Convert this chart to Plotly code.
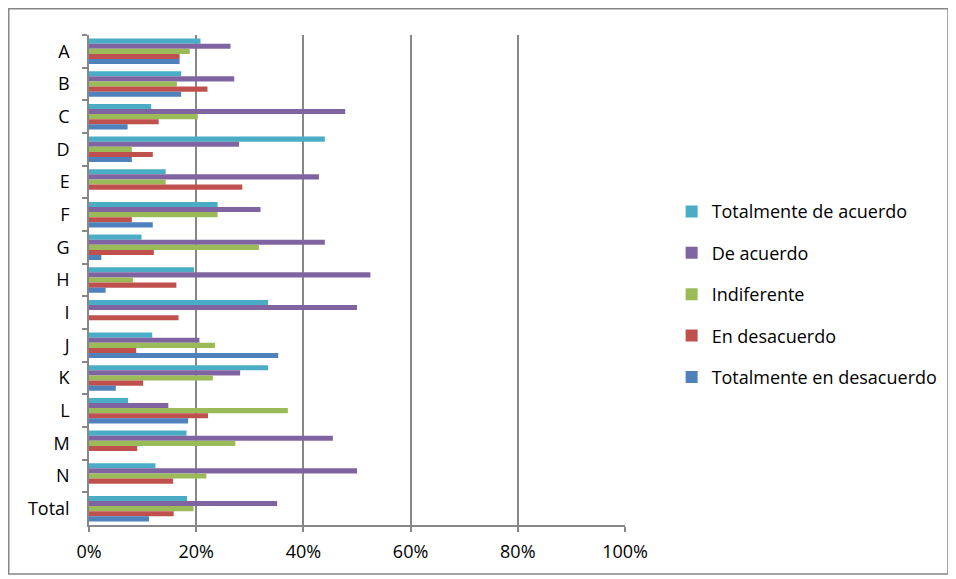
import plotly.graph_objects as go

categories = ["A", "B", "C", "D", "E", "F", "G", "H", "I", "J", "K", "L", "M", "N", "Total"]
series_names = ["Totalmente de acuerdo", "De acuerdo", "Indiferente", "En desacuerdo", "Totalmente en desacuerdo"]
totalmente_de_acuerdo = [20.8, 17.2, 11.6, 44.0, 14.3, 24.0, 9.8, 19.6, 33.4, 11.8, 33.4, 7.3, 18.2, 12.4, 18.3]
de_acuerdo = [26.4, 27.1, 47.8, 28.0, 42.9, 32.0, 44.0, 52.5, 50.0, 20.6, 28.2, 14.8, 45.5, 50.0, 35.1]
indiferente = [18.8, 16.4, 20.3, 8.0, 14.3, 24.0, 31.7, 8.2, 0.0, 23.5, 23.1, 37.1, 27.3, 21.9, 19.5]
en_desacuerdo = [16.9, 22.1, 13.0, 11.9, 28.6, 8.0, 12.1, 16.3, 16.7, 8.8, 10.1, 22.2, 9.0, 15.7, 15.8]
totalmente_en_desacuerdo = [16.9, 17.2, 7.2, 8.0, 0.0, 11.9, 2.3, 3.1, 0.0, 35.3, 5.0, 18.5, 0.0, 0.0, 11.2]
colors = ["#4BACC6", "#8064A2", "#9BBB59", "#C0504D", "#4F81BD"]

all_series = [totalmente_de_acuerdo, de_acuerdo, indiferente, en_desacuerdo, totalmente_en_desacuerdo]

fig = go.Figure()
for i, (name, vals, col) in enumerate(zip(series_names, all_series, colors)):
    fig.add_trace(go.Bar(
        y=categories, x=[v / 100 for v in vals], name=name, orientation="h",
        marker=dict(color=col, line=dict(width=0)), legendgroup=str(i),
    ))

font_family = "Open Sans, Liberation Sans, sans-serif"
fig.update_layout(
    width=956, height=579,
    margin=dict(l=81, r=339, t=27, b=62, autoexpand=False),
    paper_bgcolor="white", plot_bgcolor="white",
    barmode="group", bargap=0.22, bargroupgap=0,
    font=dict(family=font_family, size=17, color="black"),
    showlegend=True,
    legend=dict(x=1.087, y=0.471, xanchor="left", yanchor="middle",
                traceorder="grouped", tracegroupgap=15, bgcolor="rgba(0,0,0,0)",
                font=dict(size=18, family=font_family), itemwidth=30),
    xaxis=dict(range=[0, 1], tickformat=".0%", dtick=0.2, showgrid=True,
               gridcolor="#878787", gridwidth=1.5, zeroline=False,
               showline=True, linecolor="#878787", linewidth=1.5,
               ticks="outside", ticklen=5, tickcolor="#878787", tickwidth=1.5,
               tickfont=dict(size=18), ticklabelstandoff=5),
    yaxis=dict(autorange="reversed", showline=True, linecolor="#878787", linewidth=1.5,
               ticks="outside", ticklen=5, tickcolor="#878787", tickwidth=1.5,
               tickson="boundaries", showgrid=False, tickfont=dict(size=18),
               ticklabelstandoff=14),
    shapes=[dict(type="rect", xref="paper", yref="paper",
                 x0=-0.1497, x1=1.6026, y0=-0.1, y1=1.0536,
                 line=dict(color="#878787", width=1.5), fillcolor="rgba(0,0,0,0)")],
)

fig.write_html("out.html")
